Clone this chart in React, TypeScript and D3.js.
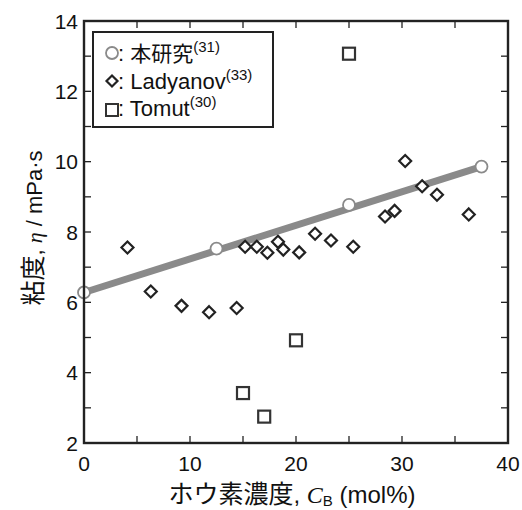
import React from "react";
import * as d3 from "d3";

const studyX = [0, 12.5, 25, 37.5];
const studyY = [6.28, 7.53, 8.77, 9.86];

const ladyX = [4.1, 6.3, 9.2, 11.8, 14.4, 15.2, 16.3, 17.3, 18.3, 18.8, 20.3, 21.8, 23.3, 25.4, 28.4, 29.3, 30.3, 31.9, 33.3, 36.3];
const ladyY = [7.56, 6.31, 5.9, 5.72, 5.84, 7.58, 7.58, 7.41, 7.72, 7.5, 7.42, 7.95, 7.76, 7.58, 8.44, 8.6, 10.02, 9.3, 9.06, 8.5];

const tomutX = [25.0, 20.0, 15.0, 17.0];
const tomutY = [13.07, 4.92, 3.42, 2.75];

const xTicks = [0, 10, 20, 30, 40];
const yTicks = [2, 4, 6, 8, 10, 12, 14];

const W = 522, H = 510;
const L = 84, R = 508, T = 21, B = 443;

const FONT = "'Liberation Sans', Arial, 'Noto Sans CJK JP', sans-serif";
const CJK = "'Noto Sans CJK JP', sans-serif";

export default function App() {
  const x = d3.scaleLinear().domain([0, 40]).range([L, R]);
  const y = d3.scaleLinear().domain([2, 14]).range([B, T]);
  const line = d3.line<[number, number]>().x(d => x(d[0])).y(d => y(d[1]));
  const fitPts: [number, number][] = [
    [studyX[0], studyY[0]],
    [studyX[studyX.length - 1], studyY[studyY.length - 1]],
  ];
  const xMinor = d3.range(0, 40.01, 5);
  const yMinor = d3.range(2, 14.01, 1);
  const dk = "#222";
  const diamond = (cx: number, cy: number, s: number) =>
    `M${cx},${cy - s}L${cx + s},${cy}L${cx},${cy + s}L${cx - s},${cy}Z`;

  return (
    <svg width={W} height={H} style={{ position: "absolute", left: 0, top: 0, background: "#fff" }} fontFamily={FONT}>
      <rect x={0} y={0} width={W} height={H} fill="#fff" />
      {/* ticks */}
      {xMinor.map(v => (
        <g key={"xt" + v}>
          <line x1={x(v)} x2={x(v)} y1={B} y2={B - 7} stroke={dk} strokeWidth={1.3} />
          <line x1={x(v)} x2={x(v)} y1={T} y2={T + 7} stroke={dk} strokeWidth={1.3} />
        </g>
      ))}
      {yMinor.map(v => (
        <g key={"yt" + v}>
          <line x1={L} x2={L + 7} y1={y(v)} y2={y(v)} stroke={dk} strokeWidth={1.3} />
          <line x1={R} x2={R - 7} y1={y(v)} y2={y(v)} stroke={dk} strokeWidth={1.3} />
        </g>
      ))}
      {/* fit line */}
      <path d={line(fitPts) || ""} stroke="#8a8a8a" strokeWidth={7} fill="none" />
      {/* Ladyanov diamonds */}
      {ladyX.map((v, i) => (
        <path key={"d" + i} d={diamond(x(v), y(ladyY[i]), 6)} fill="#fff" stroke={dk} strokeWidth={2.2} />
      ))}
      {/* Tomut squares */}
      {tomutX.map((v, i) => (
        <rect key={"s" + i} x={x(v) - 6} y={y(tomutY[i]) - 6} width={12} height={12} fill="#fff" stroke="#333" strokeWidth={2.2} />
      ))}
      {/* study circles */}
      {studyX.map((v, i) => (
        <circle key={"c" + i} cx={x(v)} cy={y(studyY[i])} r={6} fill="#fff" stroke="#8a8a8a" strokeWidth={1.8} />
      ))}
      {/* frame */}
      <rect x={L} y={T} width={R - L} height={B - T} fill="none" stroke={dk} strokeWidth={2.4} />
      {/* tick labels */}
      {xTicks.map(v => (
        <text key={"xl" + v} x={x(v)} y={471} textAnchor="middle" fontSize={21} fill="#111">{v}</text>
      ))}
      {yTicks.map(v => (
        <text key={"yl" + v} x={78} y={y(v) + 7.5} textAnchor="end" fontSize={21} fill="#111">{v}</text>
      ))}
      {/* axis labels */}
      <text x={292} y={503} textAnchor="middle" fontSize={24} fill="#111">
        <tspan fontFamily={CJK} fontSize={25}>ホウ素濃度</tspan>, <tspan fontFamily="'Liberation Serif', serif" fontStyle="italic">C</tspan>
        <tspan fontSize={15} dy={3}>B</tspan>
        <tspan dy={-3}> (mol%)</tspan>
      </text>
      <text transform={`translate(42,228) rotate(-90)`} textAnchor="middle" fontSize={22} fill="#111">
        <tspan fontFamily={CJK} fontSize={25}>粘度</tspan>, <tspan fontFamily="'Liberation Serif', serif" fontStyle="italic">η</tspan> / mPa·s
      </text>
      {/* legend */}
      <rect x={93} y={32} width={180} height={95} fill="#fff" stroke={dk} strokeWidth={2} />
      <circle cx={112} cy={53} r={6} fill="#fff" stroke="#8a8a8a" strokeWidth={1.8} />
      <text x={118} y={61} fontSize={22} fill="#111">
        : <tspan fontFamily={CJK} fontSize={21}>本研究</tspan><tspan fontSize={15} dy={-9}>(31)</tspan>
      </text>
      <path d={diamond(112, 81, 5.5)} fill="#fff" stroke={dk} strokeWidth={2.2} />
      <text x={118} y={89} fontSize={22} fill="#111">
        : Ladyanov<tspan fontSize={15} dy={-9}>(33)</tspan>
      </text>
      <rect x={106} y={104} width={12} height={12} fill="#fff" stroke="#333" strokeWidth={2} />
      <text x={118} y={116} fontSize={22} fill="#111">
        : Tomut<tspan fontSize={15} dy={-9}>(30)</tspan>
      </text>
    </svg>
  );
}
